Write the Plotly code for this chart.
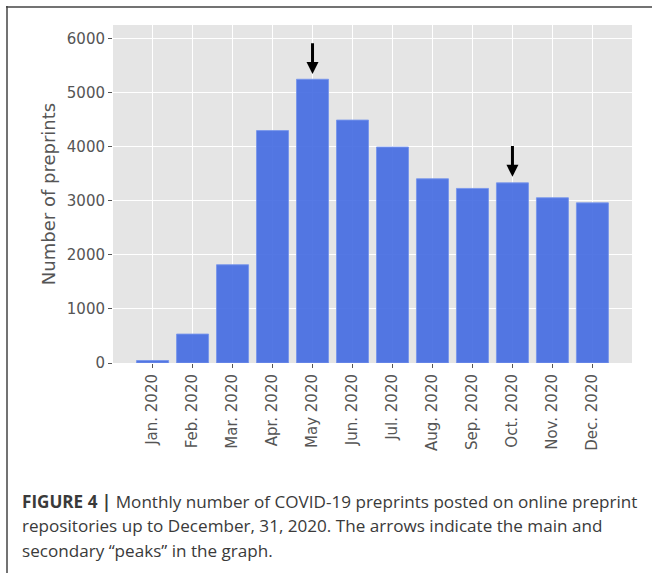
import plotly.graph_objects as go

months = ["Jan. 2020", "Feb. 2020", "Mar. 2020", "Apr. 2020", "May 2020", "Jun. 2020",
          "Jul. 2020", "Aug. 2020", "Sep. 2020", "Oct. 2020", "Nov. 2020", "Dec. 2020"]
preprints = [46, 535, 1818, 4300, 5250, 4495, 3995, 3408, 3230, 3333, 3057, 2963]
y_ticks = [0, 1000, 2000, 3000, 4000, 5000, 6000]
# arrows: (month index, tip value, tail value)
arrow_idx = [4, 9]
arrow_tip = [5346, 3444]
arrow_tail = [5944, 4044]
caption_lines = [
    "<b>FIGURE 4 |</b> Monthly number of COVID-19 preprints posted on online preprint",
    "repositories up to December, 31, 2020. The arrows indicate the main and",
    "secondary \u201cpeaks\u201d in the graph.",
]

W, H = 652, 573
L, R, T, B = 113, 20, 25, 210
pw, ph = W - L - R, H - T - B

def px_x(x):
    return (x - L) / pw

def px_y(y):
    return (H - B - y) / ph

xs = list(range(len(months)))

fig = go.Figure()
fig.add_trace(go.Bar(
    x=xs, y=preprints, width=0.8,
    marker=dict(color="rgba(65,105,225,0.9)", line=dict(color="rgba(120,150,235,0.9)", width=1)),
    showlegend=False,
))

tickfont = dict(family="DejaVu Sans", size=15, color="#555555")

fig.update_layout(
    width=W, height=H,
    margin=dict(l=L, r=R, t=T, b=B, autoexpand=False),
    paper_bgcolor="white",
    plot_bgcolor="#E5E5E5",
    bargap=0.2,
    xaxis=dict(
        range=[-0.99, 11.99], tickmode="array", tickvals=xs, ticktext=months,
        tickangle=-90, ticks="outside", ticklen=4, tickwidth=1, tickcolor="#555555",
        tickfont=tickfont, showgrid=True, gridcolor="white", gridwidth=1.2,
        zeroline=False, showline=False, automargin=False,
    ),
    yaxis=dict(
        range=[0, 6254], tickmode="array", tickvals=y_ticks,
        ticktext=[str(v) for v in y_ticks],
        ticks="outside", ticklen=4, tickwidth=1, tickcolor="#555555",
        tickfont=tickfont, showgrid=True, gridcolor="white", gridwidth=1.2,
        zeroline=False, showline=False, automargin=False,
        title=dict(text="Number of preprints", font=dict(family="DejaVu Sans", size=18, color="#555555"), standoff=6),
    ),
)

for i, tip, tail in zip(arrow_idx, arrow_tip, arrow_tail):
    fig.add_annotation(
        x=i, y=tip, ax=i, ay=tail, xref="x", yref="y", axref="x", ayref="y",
        text="", showarrow=True, arrowhead=2, arrowsize=0.8, arrowwidth=3,
        arrowcolor="black", standoff=0, startstandoff=0,
    )

caption_centers = [501, 525.5, 550]
for line, yc in zip(caption_lines, caption_centers):
    fig.add_annotation(
        x=px_x(20), y=px_y(yc), xref="paper", yref="paper",
        xanchor="left", yanchor="middle", showarrow=False, align="left",
        text=line, font=dict(family="Open Sans", size=17.1, color="#3a3a3a"),
    )

# figure frame (top and left edges)
fig.add_shape(type="line", xref="paper", yref="paper",
              x0=px_x(6), y0=px_y(7), x1=px_x(652), y1=px_y(7),
              line=dict(color="#444444", width=1.5))
fig.add_shape(type="line", xref="paper", yref="paper",
              x0=px_x(7), y0=px_y(6), x1=px_x(7), y1=px_y(573),
              line=dict(color="#444444", width=1.5))

fig.write_html("out.html", config={"displayModeBar": False},
               post_script="document.body.style.margin='0px';")
